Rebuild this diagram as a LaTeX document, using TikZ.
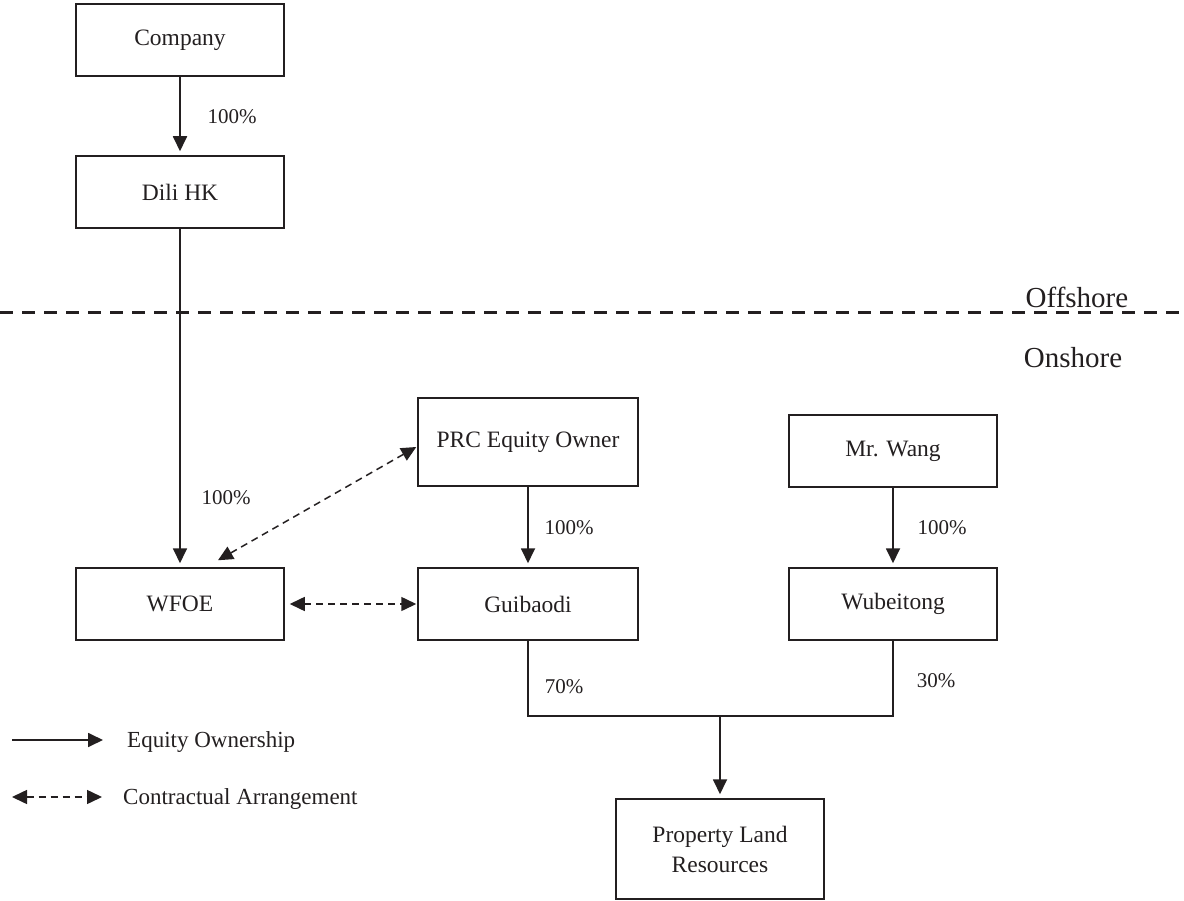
\documentclass[tikz,border=0pt]{standalone}
\usepackage{fontspec}
\setmainfont{Liberation Serif}
\usepackage{xcolor}
\usetikzlibrary{positioning,arrows.meta,calc}
\definecolor{chartink}{HTML}{231F20}

\begin{document}
\begin{tikzpicture}[x=1pt, y=-1pt,
    entity/.style={draw=chartink, line width=1.5pt, minimum width=208pt, minimum height=72pt, inner sep=0pt, align=center, text=chartink, font=\fontsize{23.5}{30}\selectfont},
    pct/.style={text=chartink, inner sep=0pt, font=\fontsize{21}{24}\selectfont},
    zone/.style={text=chartink, inner sep=0pt, font=\fontsize{29}{32}\selectfont},
    legtext/.style={text=chartink, inner sep=0pt, anchor=west, font=\fontsize{23}{26}\selectfont},
    own/.style={draw=chartink, line width=1.8pt, -{Triangle[length=15pt,width=14pt]}},
    link/.style={draw=chartink, line width=1.8pt},
    contract/.style={draw=chartink, line width=1.5pt, dash pattern=on 7pt off 5pt, {Triangle[length=15pt,width=14pt]}-{Triangle[length=15pt,width=14pt]}},
    shoreline/.style={draw=chartink, line width=3pt, dash pattern=on 13pt off 9pt},
  ]
  \useasboundingbox (0,0) rectangle (1184,901);

  % offshore / onshore split
  \coordinate (sepL) at (0,313);
  \coordinate (sepR) at (1184,313);
  \draw[shoreline] (sepL) -- (sepR);
  \node[zone] (offshore) at (1077,297) {Offshore};
  \node[zone] (onshore) at (1073,358) {Onshore};

  % entities
  \node[entity] (company) at (180,40) {Company};
  \node[entity] (dili) at (180,192) {Dili HK};
  \node[entity] (wfoe) at (180,604) {WFOE};
  \node[entity, minimum width=220pt, minimum height=88pt] (prc) at (528,442) {PRC Equity Owner};
  \node[entity] (wang) at (893,451) {Mr. Wang};
  \node[entity, minimum width=220pt] (guibaodi) at (528,604) {Guibaodi};
  \node[entity] (wubeitong) at (893,604) {Wubeitong};
  \node[entity, minimum height=100pt] (property) at (720,849) {Property Land\\Resources};

  % equity ownership
  \draw[own, shorten >=4pt] (company) -- (dili);
  \node[pct] (pctdili) at (232,117) {100\%};
  \draw[own, shorten >=4pt] (dili) -- (wfoe);
  \node[pct] (pctwfoe) at (226,498) {100\%};
  \draw[own, shorten >=4pt] (prc) -- (guibaodi);
  \node[pct] (pctgui) at (569,528) {100\%};
  \draw[own, shorten >=4pt] (wang) -- (wubeitong);
  \node[pct] (pctwub) at (942,528) {100\%};

  \coordinate (join) at (720,716);
  \draw[link] (guibaodi.south) |- (join) -| (wubeitong.south);
  \draw[own, shorten >=4pt] (join) -- (property);
  \node[pct] (pct70) at (564,687) {70\%};
  \node[pct] (pct30) at (936,681) {30\%};

  % contractual arrangements
  \draw[contract] ([xshift=38pt,yshift=7pt]wfoe.north) -- ([xshift=-1pt,yshift=-5pt]prc.west);
  \draw[contract] ([xshift=5pt]wfoe.east) -- ([xshift=-1pt]guibaodi.west);

  % legend
  \coordinate (eqA) at (12,740);
  \coordinate (eqB) at (103,740);
  \draw[own] (eqA) -- (eqB);
  \node[legtext] (eqtext) at (127,742) {Equity Ownership};
  \coordinate (coA) at (12,797);
  \coordinate (coB) at (102,797);
  \draw[contract] (coA) -- (coB);
  \node[legtext] (cotext) at (123,799) {Contractual Arrangement};
\end{tikzpicture}
\end{document}
